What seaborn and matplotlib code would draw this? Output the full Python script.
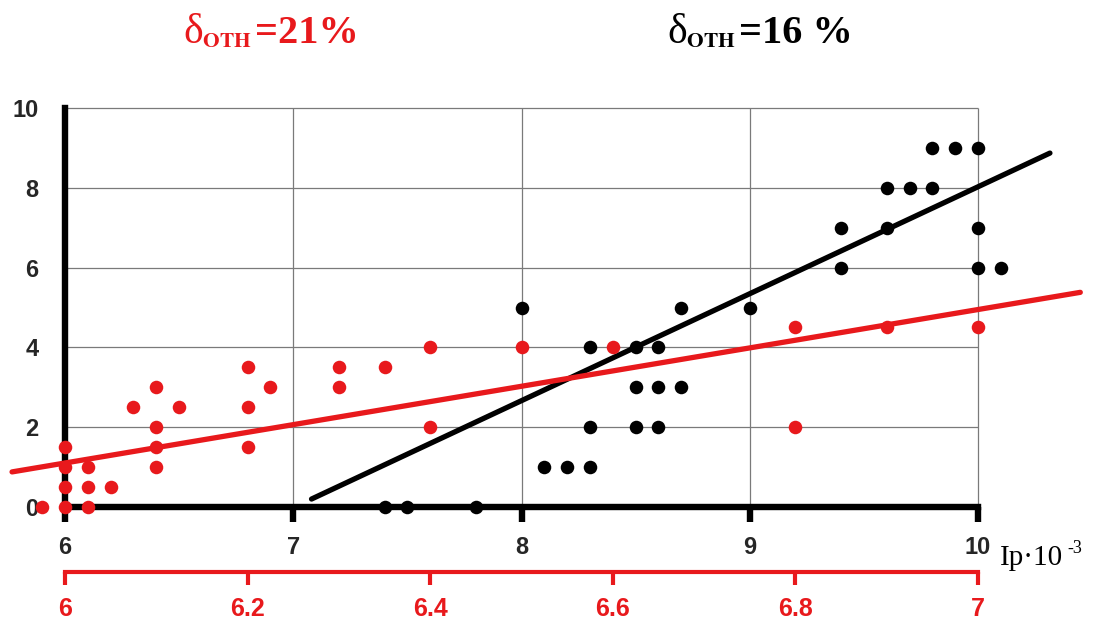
import numpy as np
import pandas as pd
import matplotlib
matplotlib.use("Agg")
import matplotlib.pyplot as plt
import seaborn as sns

# ---------------- data ----------------
black_x = [7.4, 7.5, 7.8, 8.0, 8.1, 8.2, 8.3, 8.3, 8.3, 8.5, 8.5, 8.5, 8.6, 8.6, 8.6,
           8.7, 8.7, 9.0, 9.4, 9.4, 9.6, 9.6, 9.7, 9.8, 9.8, 9.9, 10.0, 10.0, 10.0, 10.1]
black_y = [0, 0, 0, 5, 1, 1, 1, 2, 4, 2, 3, 4, 2, 3, 4,
           3, 5, 5, 6, 7, 7, 8, 8, 8, 9, 9, 6, 7, 9, 6]

red_x = [5.975, 6.0, 6.0, 6.0, 6.0, 6.025, 6.025, 6.025, 6.05, 6.075, 6.1, 6.1, 6.1, 6.1,
         6.125, 6.2, 6.2, 6.2, 6.225, 6.3, 6.3, 6.35, 6.4, 6.4, 6.5, 6.6, 6.8, 6.8, 6.9, 7.0]
red_y = [0, 0, 0.5, 1, 1.5, 0, 0.5, 1, 0.5, 2.5, 1, 1.5, 2, 3,
         2.5, 1.5, 2.5, 3.5, 3, 3, 3.5, 3.5, 2, 4, 4, 4, 2, 4.5, 4.5, 4.5]

black_fit_x = [7.08, 10.315]
black_fit_y = [0.2, 8.87]
red_fit_x = [5.942, 7.112]
red_fit_y = [0.88, 5.38]

black_ticks = [6, 7, 8, 9, 10]
red_ticks = [6, 6.2, 6.4, 6.6, 6.8, 7]
red_tick_labels = ["6", "6.2", "6.4", "6.6", "6.8", "7"]
y_ticks = [0, 2, 4, 6, 8, 10]

delta = "δ"
sub = r"$_{\mathbf{OTH}}$"
value_red = "=21%"
value_black = "=16 %"
axis_note = "Ip·10"
axis_note_exp = "-3"

# ---------------- style ----------------
sns.set_style("white")
plt.rcParams["font.family"] = ["Liberation Sans", "DejaVu Sans"]
plt.rcParams["mathtext.fontset"] = "stix"

RED = "#e8191c"
BLACK = "#000000"

fig = plt.figure(figsize=(10.93, 6.2), dpi=100)
ax = fig.add_axes([0.00726, 0.1597, 0.9878, 0.679])
xlim = (5.75, 10.48)
ylim = (-0.35, 10.2)
ax.set_xlim(*xlim)
ax.set_ylim(*ylim)

# grid restricted to the box 6..10 x 0..10
ax.hlines([t for t in y_ticks if t > 0], 6, 10, color="#7a7a7a", lw=0.9, zorder=0.5)
ax.vlines([t for t in black_ticks if t > 6], 0, 10, color="#7a7a7a", lw=0.9, zorder=0.5)

# black series
sns.scatterplot(x=black_x, y=black_y, ax=ax, color=BLACK, s=95, linewidth=0,
                zorder=4, clip_on=False, legend=False)
sns.lineplot(x=black_fit_x, y=black_fit_y, ax=ax, color=BLACK, lw=3.8, zorder=3,
             legend=False)

# spines / ticks of black axes
for s in ["top", "right"]:
    ax.spines[s].set_visible(False)
ax.spines["left"].set_position(("data", 6))
ax.spines["bottom"].set_position(("data", 0))
ax.spines["left"].set_bounds(0, 10)
ax.spines["bottom"].set_bounds(6, 10)
for s in ["left", "bottom"]:
    ax.spines[s].set_linewidth(4.6)
    ax.spines[s].set_color(BLACK)
    ax.spines[s].set_zorder(2.5)
ax.set_xticks(black_ticks)
ax.set_yticks(y_ticks)
ax.set_xticklabels([str(t) for t in black_ticks])
ax.set_yticklabels([str(t) for t in y_ticks])
ax.tick_params(axis="x", direction="out", length=11, width=4.6, color=BLACK,
               pad=10, labelsize=17)
ax.tick_params(axis="y", direction="out", length=9, width=4.6, color=BLACK,
               pad=10, labelsize=17)
for lab in ax.get_xticklabels() + ax.get_yticklabels():
    lab.set_fontweight("bold")
ax.set_xlabel("")
ax.set_ylabel("")

# red axes (secondary scale 6..7 mapped on 6..10)
ax2 = ax.twiny()
ax2.set_xlim(6 + (xlim[0] - 6) / 4, 6 + (xlim[1] - 6) / 4)
ax2.set_ylim(*ylim)
sns.lineplot(x=red_fit_x, y=red_fit_y, ax=ax2, color=RED, lw=3.8, zorder=3,
             legend=False)
sns.scatterplot(x=red_x, y=red_y, ax=ax2, color=RED, s=95, linewidth=0,
                zorder=4, clip_on=False, legend=False)
for s in ["top", "left", "right"]:
    ax2.spines[s].set_visible(False)
ax2.spines["bottom"].set_visible(True)
ax2.spines["bottom"].set_position(("axes", -0.121))
ax2.spines["bottom"].set_bounds(6, 7)
ax2.spines["bottom"].set_linewidth(3.0)
ax2.spines["bottom"].set_color(RED)
ax2.xaxis.set_ticks_position("bottom")
ax2.xaxis.set_label_position("bottom")
ax2.set_xticks(red_ticks)
ax2.set_xticklabels(red_tick_labels)
ax2.tick_params(axis="x", direction="out", length=9, width=3.0, color=RED,
                labelcolor=RED, pad=9, labelsize=18, top=False, labeltop=False,
                bottom=True, labelbottom=True)
for lab in ax2.get_xticklabels():
    lab.set_fontweight("bold")
ax2.set_xlabel("")
ax2.set_ylabel("")

# titles
serif = "Liberation Serif"
def title(x0, value, color):
    y0 = 1 - 43 / 620
    t1 = fig.text(x0 / 1093, y0, delta, color=color, fontsize=30, family=serif,
                  ha="left", va="baseline")
    t2 = fig.text((x0 + 19) / 1093, y0, sub, color=color, fontsize=22,
                  family=serif, ha="left", va="baseline")
    fig.text((x0 + 72) / 1093, y0, value, color=color, fontsize=29,
             fontweight="bold", family=serif, ha="left", va="baseline")

title(183, value_red, RED)
title(667, value_black, BLACK)

fig.text(1000 / 1093, 1 - 565 / 620, axis_note, color=BLACK, fontsize=21,
         family=serif, ha="left", va="baseline")
fig.text(1067 / 1093, 1 - 553 / 620, axis_note_exp, color=BLACK, fontsize=13,
         family=serif, ha="left", va="baseline")

fig.savefig("out.png", dpi=100)
